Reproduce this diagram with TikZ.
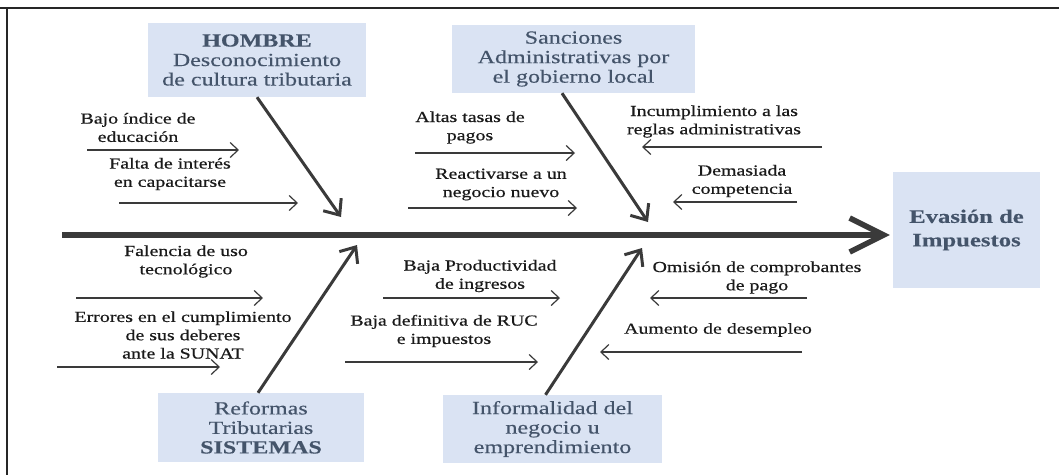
\documentclass[tikz,border=0pt]{standalone}
\usepackage{fontspec}
\setmainfont[FakeStretch=1.3]{Liberation Serif}
\newfontfamily\lblfont[FakeStretch=1.3,FakeBold=0.6]{Liberation Serif}
\newfontfamily\boxfont[FakeStretch=1.3,FakeBold=0.3]{Liberation Serif}
\usetikzlibrary{arrows.meta}
\definecolor{boxfill}{HTML}{DAE3F3}
\definecolor{boxtext}{HTML}{44546A}
\definecolor{arrowcol}{HTML}{3A3A3A}
\definecolor{lbltext}{HTML}{1A1A1A}
\begin{document}
\begin{tikzpicture}[x=1pt,y=-1pt,
  cause/.style={fill=boxfill, text=boxtext, align=center, inner sep=0pt, font=\boxfont\fontsize{18.5}{19.5}\selectfont},
  effect/.style={cause, font=\boxfont\fontsize{19}{23.5}\selectfont\bfseries},
  lbl/.style={align=center, inner sep=0pt, text=lbltext, font=\lblfont\fontsize{15.3}{18.3}\selectfont},
  subarrow/.style={draw=arrowcol, line width=1.2pt, -{Straight Barb[length=8pt,width=15pt]}},
  bonearrow/.style={draw=arrowcol, line width=3pt, -{Straight Barb[length=13pt,width=22pt]}},
  spinearrow/.style={draw=arrowcol, line width=5.5pt, -{Straight Barb[length=34pt,width=34pt]}},
  frameline/.style={draw=black!85, line width=1.5pt}]
\useasboundingbox (0,0) rectangle (1059,475);
% frame
\draw[frameline] (0,8) -- (1059,8);
\draw[frameline] (7,8) -- (7,475);

% category boxes
\node[cause, minimum width=218pt, minimum height=74pt] (hombre) at (257,60)
  {\textbf{HOMBRE}\\Desconocimiento\\de cultura tributaria};
\node[cause, minimum width=243pt, minimum height=68pt] (sanc) at (573.5,59)
  {Sanciones\\Administrativas por\\el gobierno local};
\node[cause, minimum width=206pt, minimum height=69pt] (reform) at (261,427.5)
  {Reformas\\Tributarias\\\textbf{SISTEMAS}};
\node[cause, minimum width=219pt, minimum height=68pt] (inform) at (552.5,429)
  {Informalidad del\\negocio u\\emprendimiento};
\node[effect, minimum width=147pt, minimum height=116pt] (evasion) at (966.5,230)
  {Evasión de\\Impuestos};

% spine
\coordinate (spinestart) at (62,235);
\draw[spinearrow, shorten >=3pt] (spinestart) -- (evasion.west |- spinestart);

% bones
\coordinate (hombreend) at (341,217);
\coordinate (sancend) at (648,222);
\coordinate (reformend) at (357,245);
\coordinate (informend) at (642,248);
\draw[bonearrow] (hombre.south) -- (hombreend);
\draw[bonearrow] ([xshift=-11.5pt]sanc.south) -- (sancend);
\draw[bonearrow] ([xshift=-3pt]reform.north) -- (reformend);
\draw[bonearrow] ([xshift=-7pt]inform.north) -- (informend);

% labels
\node[lbl] (l1) at (138,127.5) {Bajo índice de\\educación};
\node[lbl] (l2) at (170,174) {Falta de interés\\en capacitarse};
\node[lbl] (l3) at (470,127.5) {Altas tasas de\\pagos};
\node[lbl] (l4) at (501,184.5) {Reactivarse a un\\negocio nuevo};
\node[lbl] (l5) at (714,121.5) {Incumplimiento a las\\reglas administrativas};
\node[lbl] (l6) at (742,181) {Demasiada\\competencia};
\node[lbl] (l7) at (186,261.5) {Falencia de uso\\tecnológico};
\node[lbl] (l8) at (183,335) {Errores en el cumplimiento\\de sus deberes\\ante la SUNAT};
\node[lbl] (l9) at (480,276) {Baja Productividad\\de ingresos};
\node[lbl] (l10) at (444,331) {Baja definitiva de RUC\\e impuestos};
\node[lbl] (l11) at (757,277.5) {Omisión de comprobantes\\de pago};
\node[lbl] (l12) at (718,330) {Aumento de desempleo};

% sub-cause arrows
\coordinate (a1s) at (87,150);   \coordinate (a1e) at (239,150);
\coordinate (a2s) at (119,203);  \coordinate (a2e) at (298,203);
\coordinate (a3s) at (415,153);  \coordinate (a3e) at (575,153);
\coordinate (a4s) at (408,208);  \coordinate (a4e) at (577,208);
\coordinate (a5s) at (822,147);  \coordinate (a5e) at (642,147);
\coordinate (a6s) at (797,202);  \coordinate (a6e) at (673,202);
\coordinate (a7s) at (76,298);   \coordinate (a7e) at (263,298);
\coordinate (a8s) at (57,367);   \coordinate (a8e) at (220,367);
\coordinate (a9s) at (383,298);  \coordinate (a9e) at (560,298);
\coordinate (a10s) at (345,362); \coordinate (a10e) at (538,362);
\coordinate (a11s) at (807,298); \coordinate (a11e) at (650,298);
\coordinate (a12s) at (802,352); \coordinate (a12e) at (600,352);
\foreach \i in {1,...,12}{\draw[subarrow] (a\i s) -- (a\i e);}
\end{tikzpicture}
\end{document}
